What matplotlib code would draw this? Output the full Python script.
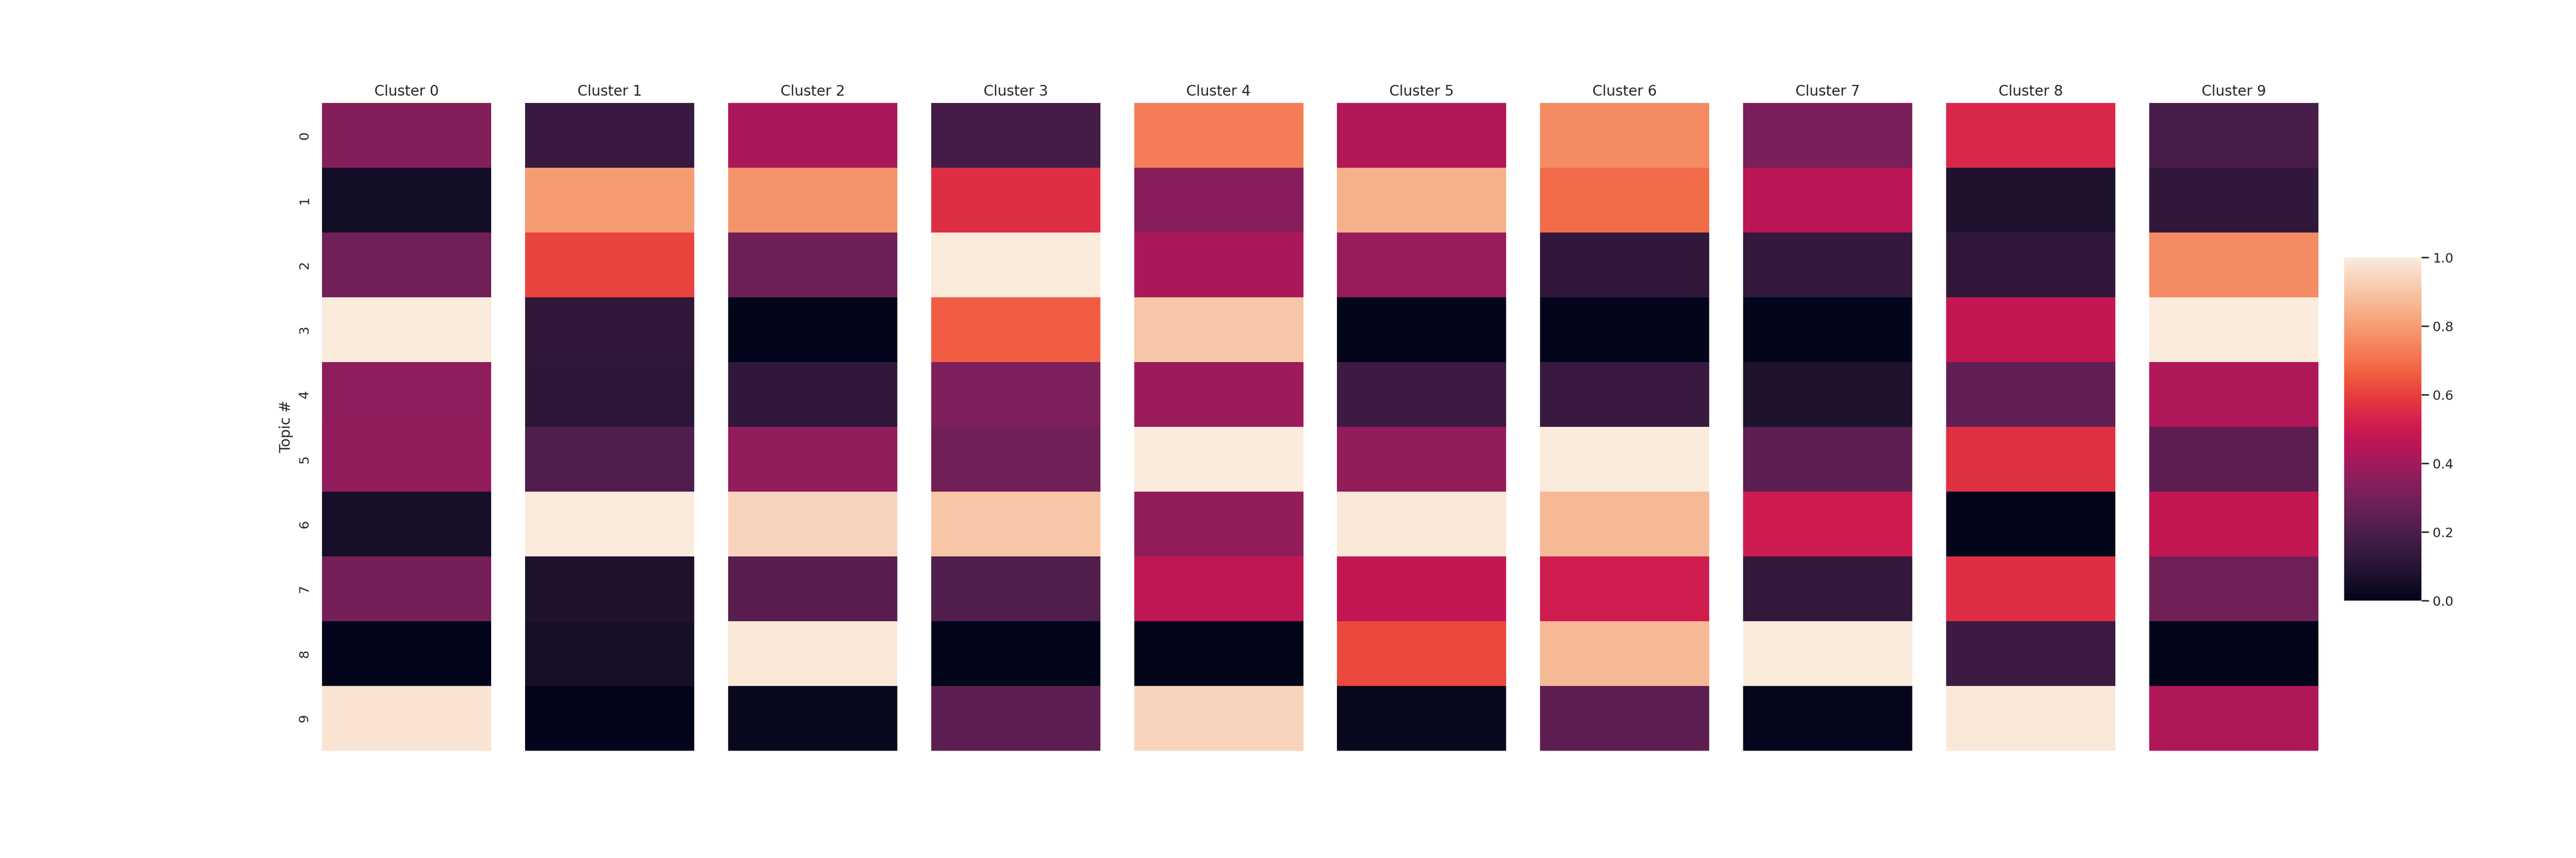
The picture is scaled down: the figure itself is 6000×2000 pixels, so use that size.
import matplotlib
matplotlib.use("Agg")
import matplotlib.pyplot as plt
import numpy as np
import pandas as pd
import seaborn as sns

# normalised topic weights per cluster (rows = topic 0..9)
TOPICS = list(range(10))
CLUSTERS = [f"Cluster {i}" for i in range(10)]

cluster_0 = [0.33, 0.05, 0.29, 1.00, 0.36, 0.37, 0.06, 0.30, 0.00, 0.98]
cluster_1 = [0.15, 0.80, 0.61, 0.13, 0.12, 0.21, 1.00, 0.08, 0.06, 0.00]
cluster_2 = [0.42, 0.78, 0.28, 0.00, 0.13, 0.37, 0.94, 0.23, 0.99, 0.02]
cluster_3 = [0.18, 0.56, 1.00, 0.66, 0.32, 0.29, 0.90, 0.21, 0.00, 0.24]
cluster_4 = [0.73, 0.34, 0.42, 0.90, 0.39, 1.00, 0.37, 0.47, 0.00, 0.94]
cluster_5 = [0.44, 0.85, 0.38, 0.00, 0.16, 0.37, 0.99, 0.48, 0.62, 0.02]
cluster_6 = [0.76, 0.69, 0.13, 0.00, 0.15, 1.00, 0.87, 0.51, 0.87, 0.24]
cluster_7 = [0.31, 0.46, 0.14, 0.00, 0.08, 0.24, 0.50, 0.14, 1.00, 0.01]
cluster_8 = [0.54, 0.08, 0.13, 0.48, 0.25, 0.57, 0.00, 0.56, 0.16, 0.99]
cluster_9 = [0.19, 0.13, 0.76, 1.00, 0.43, 0.24, 0.48, 0.29, 0.00, 0.43]

columns = [cluster_0, cluster_1, cluster_2, cluster_3, cluster_4,
           cluster_5, cluster_6, cluster_7, cluster_8, cluster_9]

sns.set_theme()

fig, axes = plt.subplots(1, 10, figsize=(30, 10))
fig.subplots_adjust(left=0.125, right=0.9, bottom=0.125, top=0.88, wspace=0.2)
cbar_ax = fig.add_axes([0.91, 0.3, 0.03, 0.4])

for i, (ax, vals) in enumerate(zip(axes, columns)):
    df = pd.DataFrame({CLUSTERS[i]: vals}, index=TOPICS)
    sns.heatmap(df, ax=ax, vmin=0, vmax=1, cbar=(i == 0),
                cbar_ax=cbar_ax if i == 0 else None,
                xticklabels=False, yticklabels=(i == 0))
    ax.set_title(CLUSTERS[i])
    if i == 0:
        ax.set_ylabel("Topic #")
        plt.setp(ax.get_yticklabels(), rotation=90, va="center")
    else:
        ax.set_ylabel("")

cbar_ax.tick_params(right=True, length=6, width=1.25)

fig.savefig("out.png", dpi=200)
plt.close(fig)
